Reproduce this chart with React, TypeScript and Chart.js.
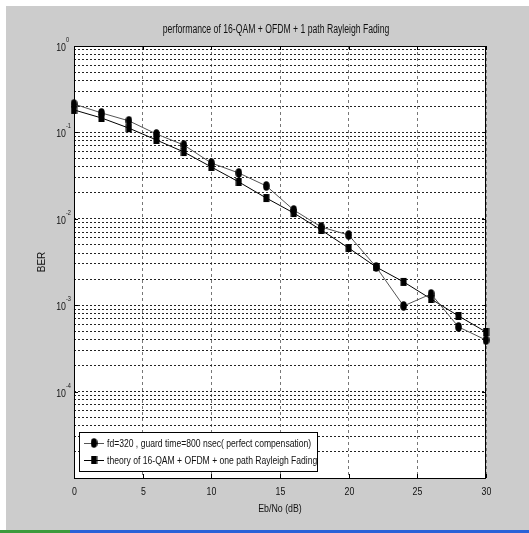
import { useEffect, useRef } from 'react';
import { Chart, registerables } from 'chart.js';

Chart.register(...registerables);

// ---- data ----
const ebno = [0, 2, 4, 6, 8, 10, 12, 14, 16, 18, 20, 22, 24, 26, 28, 30];
const berSim = [0.213, 0.168, 0.136, 0.0958, 0.0714, 0.0442, 0.0339, 0.024, 0.01265, 0.00804, 0.00649, 0.00277, 0.00098, 0.00135, 0.00056, 0.000395];
const berTheory = [0.182, 0.147, 0.112, 0.0817, 0.0593, 0.0398, 0.0267, 0.0174, 0.01167, 0.00742, 0.00459, 0.00277, 0.00186, 0.00118, 0.00075, 0.00049];
const xTickValues = [0, 5, 10, 15, 20, 25, 30];
const xTickLabels = ['0', '5', '10', '15', '20', '25', '30'];
const yDecades = [1e-4, 1e-3, 1e-2, 1e-1, 1];
const yDecadeExponents = ['-4', '-3', '-2', '-1', '0'];
const titleText = 'performance of 16-QAM + OFDM + 1 path Rayleigh Fading';
const xTitle = 'Eb/No (dB)';
const yTitle = 'BER';
const simLabel = 'fd=320 , guard time=800 nsec( perfect compensation)';
const theoryLabel = 'theory of 16-QAM + OFDM + one path Rayleigh Fading';

const FONT = '"Liberation Sans", Arial, sans-serif';
const W = 529;
const H = 533;

function makeMarker(kind: 'ellipse' | 'rect'): HTMLCanvasElement {
  const c = document.createElement('canvas');
  c.width = 7;
  c.height = 10;
  const g = c.getContext('2d')!;
  g.fillStyle = '#000';
  if (kind === 'ellipse') {
    g.beginPath();
    g.ellipse(3.5, 5, 3.3, 4.8, 0, 0, Math.PI * 2);
    g.fill();
  } else {
    g.fillRect(0.5, 1, 6, 8);
  }
  return c;
}

function narrowText(ctx: CanvasRenderingContext2D, text: string, x: number, y: number, size: number, sx: number, align: CanvasTextAlign, color = '#111') {
  ctx.save();
  ctx.translate(x, y);
  ctx.scale(sx, 1);
  ctx.font = `${size}px ${FONT}`;
  ctx.fillStyle = color;
  ctx.textAlign = align;
  ctx.textBaseline = 'middle';
  ctx.fillText(text, 0, 0);
  ctx.restore();
}

export default function App() {
  const ref = useRef<HTMLCanvasElement>(null);

  useEffect(() => {
    const canvas = ref.current!;
    const mSim = makeMarker('ellipse');
    const mTh = makeMarker('rect');

    const decor = {
      id: 'decor',
      beforeDraw(chart: any) {
        const { ctx, chartArea: a } = chart;
        ctx.save();
        ctx.fillStyle = '#ffffff';
        ctx.fillRect(0, 0, W, H);
        ctx.fillStyle = '#cccccc';
        ctx.fillRect(6, 6, W - 6, 524);
        ctx.fillStyle = '#2a62d8';
        ctx.fillRect(0, 530, W, 3);
        ctx.fillStyle = '#3c9a3c';
        ctx.fillRect(0, 530, 70, 3);
        ctx.fillStyle = '#ffffff';
        ctx.fillRect(a.left, a.top, a.right - a.left, a.bottom - a.top);
        ctx.restore();
      },
      afterDraw(chart: any) {
        const { ctx, chartArea: a } = chart;
        ctx.save();
        // axes box
        ctx.strokeStyle = '#000';
        ctx.lineWidth = 1;
        ctx.setLineDash([]);
        ctx.strokeRect(a.left + 0.5, a.top + 0.5, a.right - a.left - 1, a.bottom - a.top);
        // x tick marks + labels
        const xs = chart.scales.x;
        xTickValues.forEach((v, i) => {
          const px = Math.round(xs.getPixelForValue(v)) + 0.5;
          ctx.beginPath();
          ctx.moveTo(px, a.bottom);
          ctx.lineTo(px, a.bottom - 4);
          ctx.moveTo(px, a.top);
          ctx.lineTo(px, a.top + 4);
          ctx.stroke();
          narrowText(ctx, xTickLabels[i], px, a.bottom + 14, 11, 0.8, 'center');
        });
        // y decade tick marks + labels
        const ys = chart.scales.y;
        yDecades.forEach((v, i) => {
          const py = Math.round(ys.getPixelForValue(v)) + 0.5;
          ctx.beginPath();
          ctx.moveTo(a.left, py);
          ctx.lineTo(a.left + 4, py);
          ctx.moveTo(a.right, py);
          ctx.lineTo(a.right - 4, py);
          ctx.stroke();
          narrowText(ctx, '10', a.left - 8, py + 1, 11, 0.8, 'right');
          narrowText(ctx, yDecadeExponents[i], a.left - 8, py - 6, 7, 0.8, 'left');
        });
        // texts
        narrowText(ctx, titleText, (a.left + a.right) / 2 - 4, 30, 12, 0.72, 'center');
        narrowText(ctx, xTitle, (a.left + a.right) / 2, 509, 11, 0.8, 'center');
        ctx.save();
        ctx.translate(42, (a.top + a.bottom) / 2);
        ctx.rotate(-Math.PI / 2);
        narrowText(ctx, yTitle, 0, 0, 11, 0.9, 'center');
        ctx.restore();
        // legend
        const lx = a.left + 5;
        const ly = a.bottom - 46;
        const lw = 238;
        const lh = 39;
        ctx.fillStyle = '#fff';
        ctx.fillRect(lx, ly, lw, lh);
        ctx.strokeStyle = '#000';
        ctx.strokeRect(lx + 0.5, ly + 0.5, lw, lh);
        const rows = [
          { label: simLabel, color: '#555', marker: mSim, y: ly + 11 },
          { label: theoryLabel, color: '#000', marker: mTh, y: ly + 28 },
        ];
        rows.forEach((r) => {
          ctx.strokeStyle = r.color;
          ctx.beginPath();
          ctx.moveTo(lx + 5, r.y + 0.5);
          ctx.lineTo(lx + 25, r.y + 0.5);
          ctx.stroke();
          ctx.drawImage(r.marker, lx + 15 - 3.5, r.y - 5);
          narrowText(ctx, r.label, lx + 28, r.y + 1, 11, 0.78, 'left');
        });
        ctx.restore();
      },
    };

    const chart = new Chart(canvas, {
      type: 'line',
      data: {
        datasets: [
          {
            label: simLabel,
            data: ebno.map((x, i) => ({ x, y: berSim[i] })),
            borderColor: '#555555',
            borderWidth: 1,
            pointStyle: mSim as any,
            pointRadius: 4,
            backgroundColor: '#000',
            tension: 0,
            clip: false,
          },
          {
            label: theoryLabel,
            data: ebno.map((x, i) => ({ x, y: berTheory[i] })),
            borderColor: '#000000',
            borderWidth: 1,
            pointStyle: mTh as any,
            pointRadius: 4,
            backgroundColor: '#000',
            tension: 0,
            clip: false,
          },
        ],
      },
      options: {
        responsive: false,
        animation: false,
        events: [],
        layout: { padding: { top: 46, right: 43, left: 0, bottom: 0 } },
        plugins: { legend: { display: false }, title: { display: false }, tooltip: { enabled: false } },
        scales: {
          x: {
            type: 'linear',
            min: 0,
            max: 30,
            afterFit(s: any) { s.height = 55; },
            afterBuildTicks(s: any) { s.ticks = xTickValues.map((v) => ({ value: v })); },
            ticks: { display: false },
            grid: { color: '#777', lineWidth: 1, drawTicks: false },
            border: { display: false, dash: [3, 3] },
          },
          y: {
            type: 'logarithmic',
            min: 1e-5,
            max: 1,
            afterFit(s: any) { s.width = 74; },
            afterBuildTicks(s: any) {
              const t: { value: number }[] = [];
              for (let e = -5; e < 0; e++) {
                for (let m = 1; m <= 9; m++) t.push({ value: parseFloat((m * Math.pow(10, e)).toPrecision(6)) });
              }
              t.push({ value: 1 });
              s.ticks = t;
            },
            ticks: { display: false },
            grid: { color: '#222', lineWidth: 1, drawTicks: false },
            border: { display: false, dash: [2, 2] },
          },
        },
      },
      plugins: [decor],
    } as any);

    return () => chart.destroy();
  }, []);

  return (
    <div style={{ position: 'fixed', left: 0, top: 0, width: W, height: H }}>
      <canvas ref={ref} width={W} height={H} style={{ display: 'block', width: W, height: H }} />
    </div>
  );
}
